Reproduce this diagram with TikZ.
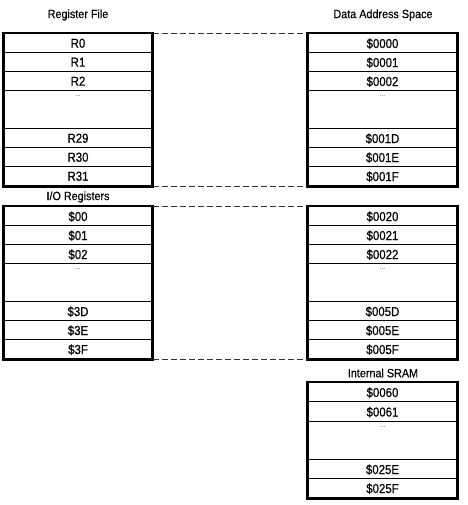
\documentclass[tikz,border=0pt]{standalone}
\usepackage{fontspec}
\setmainfont{Liberation Sans}
\newfontfamily\cellfont[FakeStretch=0.88,FakeBold=0.6]{Liberation Sans}
\newfontfamily\titlefont[FakeStretch=0.9,FakeBold=0.3]{Liberation Sans}
\begin{document}
\begin{tikzpicture}[x=1pt,y=-1pt,
  cell/.style={draw,line width=1.4pt,inner sep=0pt,anchor=north,text depth=0pt,
    font=\cellfont\fontsize{13}{13}\selectfont},
  lcell/.style={cell,minimum width=148pt},
  rcell/.style={cell,minimum width=149pt},
  dots/.style={font=\fontsize{7}{7}\selectfont,anchor=north,inner sep=0pt,text=black!70},
  title/.style={font=\titlefont\fontsize{12}{12}\selectfont,inner sep=0pt},
  outer/.style={line width=2.4pt},
  link/.style={line width=0.9pt,draw=black!80,dash pattern=on 6pt off 3pt}]
\useasboundingbox (0,0) rectangle (467,505);
% titles
\node[title] (tRF) at (78,15) {Register File};
\node[title] (tDA) at (383,15) {Data Address Space};
\node[title] (tIO) at (78,197) {I/O Registers};
\node[title] (tSR) at (383,373) {Internal SRAM};
% register file
\node[lcell,minimum height=19pt] (r0)  at (78,33)  {R0};
\node[lcell,minimum height=19pt] (r1)  at (78,52)  {R1};
\node[lcell,minimum height=19pt] (r2)  at (78,71)  {R2};
\node[lcell,minimum height=38pt] (rdd) at (78,90)  {};
\node[dots] (rddt) at (78,95) {...};
\node[lcell,minimum height=19pt] (r29) at (78,128) {R29};
\node[lcell,minimum height=19pt] (r30) at (78,147) {R30};
\node[lcell,minimum height=19pt] (r31) at (78,166) {R31};
\draw[outer] (r0.north west) rectangle (r31.south east);
% data address space 1
\node[rcell,minimum height=19pt] (d00) at (382.5,33)  {\$0000};
\node[rcell,minimum height=19pt] (d01) at (382.5,52)  {\$0001};
\node[rcell,minimum height=19pt] (d02) at (382.5,71)  {\$0002};
\node[rcell,minimum height=38pt] (ddd) at (382.5,90)  {};
\node[dots] (dddt) at (382.5,95) {...};
\node[rcell,minimum height=19pt] (d1D) at (382.5,128) {\$001D};
\node[rcell,minimum height=19pt] (d1E) at (382.5,147) {\$001E};
\node[rcell,minimum height=19pt] (d1F) at (382.5,166) {\$001F};
\draw[outer] (d00.north west) rectangle (d1F.south east);
% I/O registers
\node[lcell,minimum height=19pt] (i00) at (78,206) {\$00};
\node[lcell,minimum height=19pt] (i01) at (78,225) {\$01};
\node[lcell,minimum height=19pt] (i02) at (78,244) {\$02};
\node[lcell,minimum height=38pt] (idd) at (78,263) {};
\node[dots] (iddt) at (78,268) {...};
\node[lcell,minimum height=19pt] (i3D) at (78,301) {\$3D};
\node[lcell,minimum height=19pt] (i3E) at (78,320) {\$3E};
\node[lcell,minimum height=19pt] (i3F) at (78,339) {\$3F};
\draw[outer] (i00.north west) rectangle (i3F.south east);
% data address space 2
\node[rcell,minimum height=19pt] (d20) at (382.5,206) {\$0020};
\node[rcell,minimum height=19pt] (d21) at (382.5,225) {\$0021};
\node[rcell,minimum height=19pt] (d22) at (382.5,244) {\$0022};
\node[rcell,minimum height=38pt] (d2d) at (382.5,263) {};
\node[dots] (d2dt) at (382.5,268) {...};
\node[rcell,minimum height=19pt] (d5D) at (382.5,301) {\$005D};
\node[rcell,minimum height=19pt] (d5E) at (382.5,320) {\$005E};
\node[rcell,minimum height=19pt] (d5F) at (382.5,339) {\$005F};
\draw[outer] (d20.north west) rectangle (d5F.south east);
% internal SRAM
\node[rcell,minimum height=19pt] (s60) at (382.5,382) {\$0060};
\node[rcell,minimum height=20pt] (s61) at (382.5,401) {\$0061};
\node[rcell,minimum height=38pt] (ssd) at (382.5,421) {};
\node[dots] (ssdt) at (382.5,426) {...};
\node[rcell,minimum height=19pt] (s5E) at (382.5,459) {\$025E};
\node[rcell,minimum height=19pt] (s5F) at (382.5,478) {\$025F};
\draw[outer] (s60.north west) rectangle (s5F.south east);
% dashed links
\draw[link] (r0.north east) -- (d00.north west);
\draw[link] (r31.south east) -- (d1F.south west);
\draw[link] (i00.north east) -- (d20.north west);
\draw[link] (i3F.south east) -- (d5F.south west);
\end{tikzpicture}
\end{document}
